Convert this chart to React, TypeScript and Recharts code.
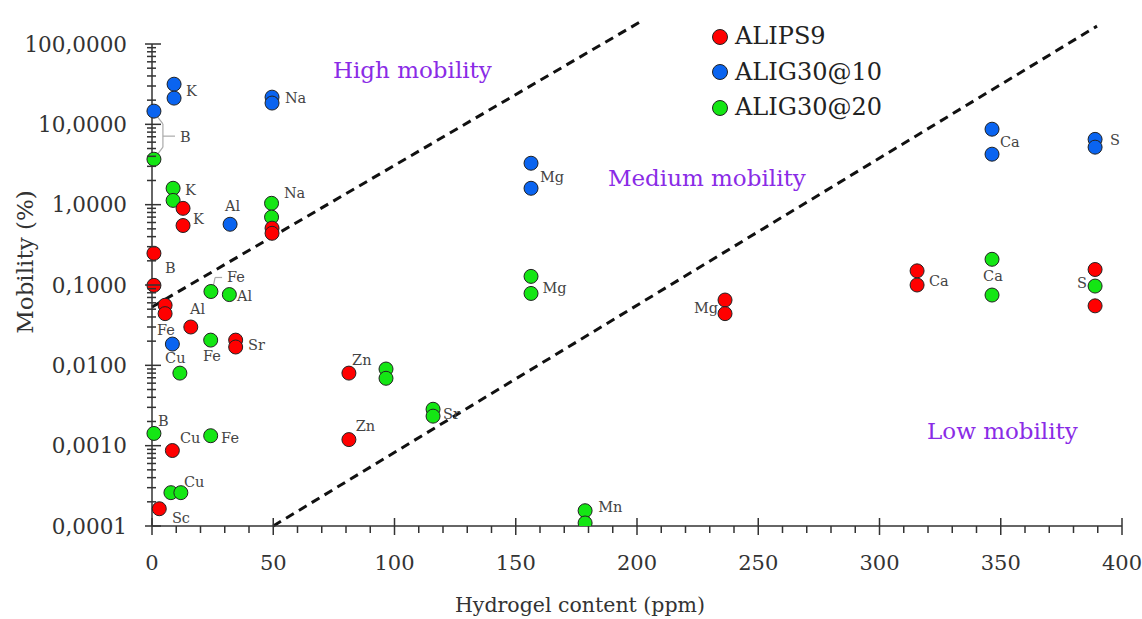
import React from 'react';
import { ScatterChart, Scatter, XAxis, YAxis, ReferenceLine, Legend } from 'recharts';

// ALIPS9 (red)
const alips9 = [
  { x: 12.8, y: 0.9 }, { x: 12.8, y: 0.55 },
  { x: 0.8, y: 0.248 }, { x: 0.8, y: 0.099 },
  { x: 49.5, y: 0.51 }, { x: 49.5, y: 0.44 },
  { x: 5.4, y: 0.056 }, { x: 5.4, y: 0.044 },
  { x: 16, y: 0.03 },
  { x: 34.5, y: 0.0206 }, { x: 34.5, y: 0.0169 },
  { x: 8.4, y: 0.00087 },
  { x: 3, y: 0.000164 },
  { x: 81.2, y: 0.008 }, { x: 81.2, y: 0.00119 },
  { x: 236.3, y: 0.065 }, { x: 236.3, y: 0.044 },
  { x: 315.5, y: 0.15 }, { x: 315.5, y: 0.1 },
  { x: 388.9, y: 0.156 }, { x: 388.9, y: 0.055 },
];

// ALIG30@10 (blue)
const alig10 = [
  { x: 9.1, y: 31.6 }, { x: 9.1, y: 21.2 },
  { x: 49.5, y: 21.8 }, { x: 49.5, y: 18.4 },
  { x: 0.8, y: 14.6 },
  { x: 32.2, y: 0.57 },
  { x: 8.4, y: 0.0184 },
  { x: 156.3, y: 3.28 }, { x: 156.3, y: 1.6 },
  { x: 346.4, y: 8.7 }, { x: 346.4, y: 4.25 },
  { x: 388.9, y: 6.5 }, { x: 388.9, y: 5.2 },
];

// ALIG30@20 (green)
const alig20 = [
  { x: 0.8, y: 3.68 }, { x: 0.8, y: 0.00142 },
  { x: 8.7, y: 1.6 }, { x: 8.7, y: 1.13 },
  { x: 49.3, y: 1.04 }, { x: 49.3, y: 0.7 },
  { x: 24.3, y: 0.083 }, { x: 24.2, y: 0.0206 }, { x: 24.2, y: 0.00133 },
  { x: 31.9, y: 0.076 },
  { x: 11.5, y: 0.008 }, { x: 7.8, y: 0.00026 }, { x: 11.9, y: 0.00026 },
  { x: 96.5, y: 0.009 }, { x: 96.5, y: 0.0069 },
  { x: 115.9, y: 0.00284 }, { x: 115.9, y: 0.00233 },
  { x: 156.3, y: 0.128 }, { x: 156.3, y: 0.0785 },
  { x: 178.6, y: 0.000155 }, { x: 178.6, y: 0.000109 },
  { x: 346.4, y: 0.209 }, { x: 346.4, y: 0.075 },
  { x: 388.9, y: 0.097 },
];

// element labels, placed at the start of the text
const elementLabels = [
  { x: 14.0, y: 25.9, text: 'K' },
  { x: 54.8, y: 21.2, text: 'Na' },
  { x: 11.5, y: 6.9, text: 'B' },
  { x: 13.6, y: 1.51, text: 'K' },
  { x: 16.9, y: 0.66, text: 'K' },
  { x: 30.1, y: 0.95, text: 'Al' },
  { x: 54.4, y: 1.39, text: 'Na' },
  { x: 5.4, y: 0.161, text: 'B' },
  { x: 30.9, y: 0.124, text: 'Fe' },
  { x: 35.1, y: 0.074, text: 'Al' },
  { x: 15.7, y: 0.05, text: 'Al' },
  { x: 2.1, y: 0.0272, text: 'Fe' },
  { x: 21, y: 0.0132, text: 'Fe' },
  { x: 39.6, y: 0.018, text: 'Sr' },
  { x: 5.4, y: 0.0122, text: 'Cu' },
  { x: 2.5, y: 0.002, text: 'B' },
  { x: 11.5, y: 0.00126, text: 'Cu' },
  { x: 28.5, y: 0.00126, text: 'Fe' },
  { x: 13.2, y: 0.00035, text: 'Cu' },
  { x: 8.2, y: 0.000126, text: 'Sc' },
  { x: 82.5, y: 0.0115, text: 'Zn' },
  { x: 84, y: 0.00178, text: 'Zn' },
  { x: 120, y: 0.0025, text: 'Sr' },
  { x: 160, y: 2.2, text: 'Mg' },
  { x: 161, y: 0.093, text: 'Mg' },
  { x: 184, y: 0.000174, text: 'Mn' },
  { x: 223.5, y: 0.052, text: 'Mg' },
  { x: 320.4, y: 0.111, text: 'Ca' },
  { x: 349.7, y: 6.0, text: 'Ca' },
  { x: 342.7, y: 0.129, text: 'Ca' },
  { x: 395, y: 6.4, text: 'S' },
  { x: 381.4, y: 0.105, text: 'S' },
];

const zoneLabels = [
  { x: 74.6, y: 47.4, text: 'High mobility' },
  { x: 188, y: 2.13, text: 'Medium mobility' },
  { x: 319.6, y: 0.00154, text: 'Low mobility' },
];

// boundary lines between mobility zones
const upperBoundary = [{ x: 0, y: 0.0532 }, { x: 202, y: 194 }];
const lowerBoundary = [{ x: 50, y: 0.0001 }, { x: 389.7, y: 167 }];

// bracket joining the two B points and the small Fe leader
const leaders = [
  [{ x: 0.8, y: 14.2 }, { x: 4.5, y: 10.1 }],
  [{ x: 4.5, y: 10.1 }, { x: 4.5, y: 5.2 }],
  [{ x: 4.5, y: 7.13 }, { x: 9.5, y: 7.13 }],
  [{ x: 4.5, y: 5.2 }, { x: 0.8, y: 3.68 }],
  [{ x: 25.2, y: 0.093 }, { x: 26, y: 0.124 }],
  [{ x: 26, y: 0.124 }, { x: 28.9, y: 0.124 }],
];

const seriesNames = ['ALIPS9', 'ALIG30@10', 'ALIG30@20'];
const seriesColors = ['#ff0000', '#0a64f0', '#14e614'];

const xMajor = [0, 50, 100, 150, 200, 250, 300, 350, 400];
const xTicks = Array.from({ length: 41 }, (_, i) => i * 10);
const yMajor = [0.0001, 0.001, 0.01, 0.1, 1, 10, 100];
const yLabels = ['0,0001', '0,0010', '0,0100', '0,1000', '1,0000', '10,0000', '100,0000'];
const yTicks = yMajor.flatMap((m, i) =>
  i === yMajor.length - 1 ? [m] : [m, 2 * m, 3 * m, 4 * m, 5 * m, 6 * m, 7 * m, 8 * m, 9 * m]
);

const FONT = 'DejaVu Serif';
const INK = '#333';

const Dot = (color: string) => (props: any) => (
  <circle cx={props.cx} cy={props.cy} r={7} fill={color} stroke="#222" strokeWidth={1} />
);

const ElementText = (props: any) => (
  <text x={props.cx} y={props.cy} dominantBaseline="central" style={{ fontFamily: FONT }} fontSize={14.5} fill="#444">
    {props.payload.text}
  </text>
);

const ZoneText = (props: any) => (
  <text x={props.cx} y={props.cy} dominantBaseline="central" style={{ fontFamily: FONT }} fontSize={23} fill="#8a2be6">
    {props.payload.text}
  </text>
);

const XTick = (props: any) => {
  const { x, y, payload } = props;
  const major = xMajor.includes(payload.value);
  return (
    <g>
      <line x1={x} x2={x} y1={major ? y - 8 : y} y2={major ? y + 9 : y + 7} stroke={INK} strokeWidth={1.5} />
      {major && (
        <text x={x} y={y + 37} textAnchor="middle" dominantBaseline="central" style={{ fontFamily: FONT }} fontSize={21} fill={INK}>
          {payload.value}
        </text>
      )}
    </g>
  );
};

const YTick = (props: any) => {
  const { x, y, payload } = props;
  const idx = yMajor.indexOf(payload.value);
  const major = idx >= 0;
  return (
    <g>
      <line x1={major ? x - 7 : x - 5} x2={major ? x + 9 : x + 4} y1={y} y2={y} stroke={INK} strokeWidth={1.5} />
      {major && (
        <text x={x - 25} y={y} textAnchor="end" dominantBaseline="central" style={{ fontFamily: FONT }} fontSize={21.5} fill={INK}>
          {yLabels[idx]}
        </text>
      )}
    </g>
  );
};

const LegendBox = () => (
  <div style={{ fontFamily: FONT, fontSize: 24, color: '#222', lineHeight: '35.5px' }}>
    {seriesNames.map((name, i) => (
      <div key={name} style={{ display: 'flex', alignItems: 'center' }}>
        <svg width={18} height={18} style={{ marginRight: 6 }}>
          <circle cx={9} cy={9} r={7.5} fill={seriesColors[i]} stroke="#222" strokeWidth={1} />
        </svg>
        {name}
      </div>
    ))}
  </div>
);

export default function App() {
  return (
    <div style={{ width: 1142, height: 619, background: '#fff' }}>
      <style>{'body{margin:0}'}</style>
      <ScatterChart width={1142} height={619} margin={{ top: 44, right: 20, bottom: 0, left: 0 }}>
        <XAxis
          type="number"
          dataKey="x"
          domain={[0, 400]}
          ticks={xTicks}
          interval={0}
          tick={<XTick />}
          tickSize={0}
          tickMargin={0}
          tickLine={false}
          height={93}
          axisLine={{ stroke: INK, strokeWidth: 1.5 }}
          label={{
            content: () => (
              <text x={580} y={605} textAnchor="middle" dominantBaseline="central" style={{ fontFamily: FONT }} fontSize={20.5} fill={INK}>
                Hydrogel content (ppm)
              </text>
            ),
          }}
        />
        <YAxis
          type="number"
          dataKey="y"
          scale="log"
          domain={[0.0001, 100]}
          allowDataOverflow
          ticks={yTicks}
          interval={0}
          tick={<YTick />}
          tickSize={0}
          tickMargin={0}
          tickLine={false}
          width={152}
          axisLine={{ stroke: INK, strokeWidth: 1.5 }}
          label={{
            content: () => (
              <text
                x={25}
                y={262}
                transform="rotate(-90 25 262)"
                textAnchor="middle"
                dominantBaseline="central"
                style={{ fontFamily: FONT }}
                fontSize={23}
                fill={INK}
              >
                Mobility (%)
              </text>
            ),
          }}
        />
        <ReferenceLine segment={upperBoundary} ifOverflow="visible" stroke="#111" strokeWidth={3} strokeDasharray="9 6" />
        <ReferenceLine segment={lowerBoundary} ifOverflow="visible" stroke="#111" strokeWidth={3} strokeDasharray="9 6" />
        {leaders.map((seg, i) => (
          <ReferenceLine key={i} segment={seg} ifOverflow="visible" stroke="#aaa" strokeWidth={1.2} />
        ))}
        <Scatter name="labels" data={elementLabels} shape={ElementText} legendType="none" isAnimationActive={false} />
        <Scatter name="zones" data={zoneLabels} shape={ZoneText} legendType="none" isAnimationActive={false} />
        <Scatter name={seriesNames[2]} data={alig20} shape={Dot(seriesColors[2])} isAnimationActive={false} />
        <Scatter name={seriesNames[1]} data={alig10} shape={Dot(seriesColors[1])} isAnimationActive={false} />
        <Scatter name={seriesNames[0]} data={alips9} shape={Dot(seriesColors[0])} isAnimationActive={false} />
        <Legend
          layout="vertical"
          align="center"
          verticalAlign="middle"
          content={<LegendBox />}
          wrapperStyle={{ left: 711, top: 19, width: 300 }}
        />
      </ScatterChart>
    </div>
  );
}
